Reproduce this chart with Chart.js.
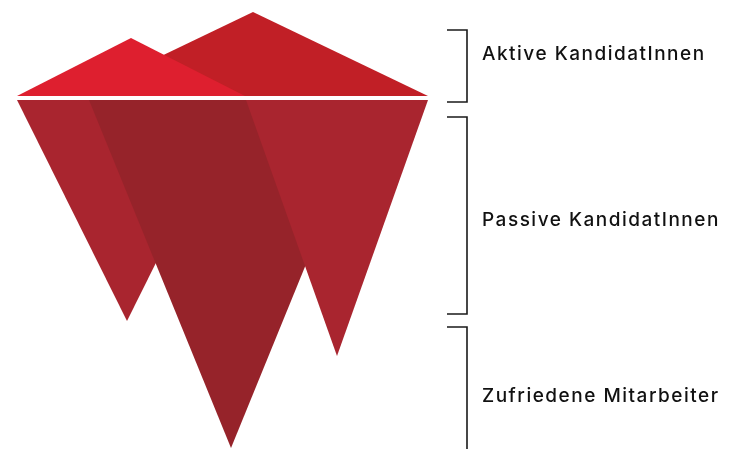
<!DOCTYPE html>
<html>
<head>
<meta charset="utf-8">
<script src="https://cdn.jsdelivr.net/npm/chart.js@4"></script>
<style>
  body { margin: 0; background: #fff; }
  #wrap { width: 729px; height: 449px; position: relative; }
</style>
</head>
<body>
<div id="wrap"><canvas id="iceberg_chart"></canvas></div>
<script>
// Werte in "Tiefe" relativ zur Wasserlinie (0 = Wasserlinie, positiv = über Wasser)
const layers = ['Aktive KandidatInnen', 'Passive KandidatInnen', 'Zufriedene Mitarbeiter'];
const layerTop = [68, -19, -229];       // obere Kante der Klammer
const layerBottom = [-4, -216, -360];   // untere Kante der Klammer
const labelDepth = [43.5, -122, -298];  // Mitte der Beschriftung

// Spitzen über Wasser: Mitte, halbe Breite, Höhe
const peakCenter = [253, 131];
const peakHalfWidth = [175, 114];
const peakHeight = [86, 60];
const peakColor = ['#c11f26', '#de1f2f'];

// Zacken unter Wasser: Mitte, halbe Breite, Tiefe
const spikeCenter = [127, 231, 337];
const spikeHalfWidth = [110, 142, 91];
const spikeDepth = [-223, -350, -258];
const spikeColor = ['#a9252f', '#96232a', '#a9252f'];

const gap = 2; // halbe Breite der weissen Wasserlinie

function triangle(center, half, base, tip) {
    return [
        {x: center - half, y: base},
        {x: center + half, y: base},
        {x: center, y: tip},
        {x: center - half, y: base}
    ];
}

let datasets = [];
let order = 20;

// unter Wasser: links zuerst, dann Mitte, dann rechts oben drauf
spikeCenter.forEach((c, i) => {
    datasets.push({
        data: triangle(c, spikeHalfWidth[i], -gap, spikeDepth[i]),
        backgroundColor: spikeColor[i],
        borderWidth: 0,
        fill: 'shape',
        order: order--
    });
});

// über Wasser: hintere Spitze, dann vordere
peakCenter.forEach((c, i) => {
    datasets.push({
        data: triangle(c, peakHalfWidth[i], gap, peakHeight[i]),
        backgroundColor: peakColor[i],
        borderWidth: 0,
        fill: 'shape',
        order: order--
    });
});

// Klammern
const bracketLeft = 447;
const bracketRight = 467;
layers.forEach((name, i) => {
    datasets.push({
        data: [
            {x: bracketLeft, y: layerTop[i]},
            {x: bracketRight, y: layerTop[i]},
            {x: bracketRight, y: layerBottom[i]},
            {x: bracketLeft, y: layerBottom[i]}
        ],
        borderColor: '#1a1a1a',
        borderWidth: 1.6,
        fill: false,
        order: 0
    });
});

const labelPlugin = {
    id: 'layerLabels',
    afterDraw(chart) {
        const ctx = chart.ctx;
        const xs = chart.scales.x;
        const ys = chart.scales.y;
        ctx.save();
        ctx.fillStyle = '#111';
        ctx.font = '500 19px Inter';
        ctx.letterSpacing = '1.5px';
        ctx.textAlign = 'left';
        ctx.textBaseline = 'middle';
        layers.forEach((name, i) => {
            ctx.fillText(name, xs.getPixelForValue(482), ys.getPixelForValue(labelDepth[i]));
        });
        ctx.restore();
    }
};

new Chart(document.getElementById('iceberg_chart'), {
    type: 'line',
    data: { datasets: datasets },
    options: {
        responsive: true,
        maintainAspectRatio: false,
        animation: false,
        parsing: false,
        elements: {
            point: { radius: 0, hoverRadius: 0 },
            line: { tension: 0 }
        },
        layout: { padding: 0 },
        plugins: {
            legend: { display: false },
            tooltip: { enabled: false }
        },
        scales: {
            x: { type: 'linear', min: 0, max: 729, display: false },
            y: { type: 'linear', min: -351, max: 98, display: false }
        }
    },
    plugins: [labelPlugin]
});
</script>
</body>
</html>
